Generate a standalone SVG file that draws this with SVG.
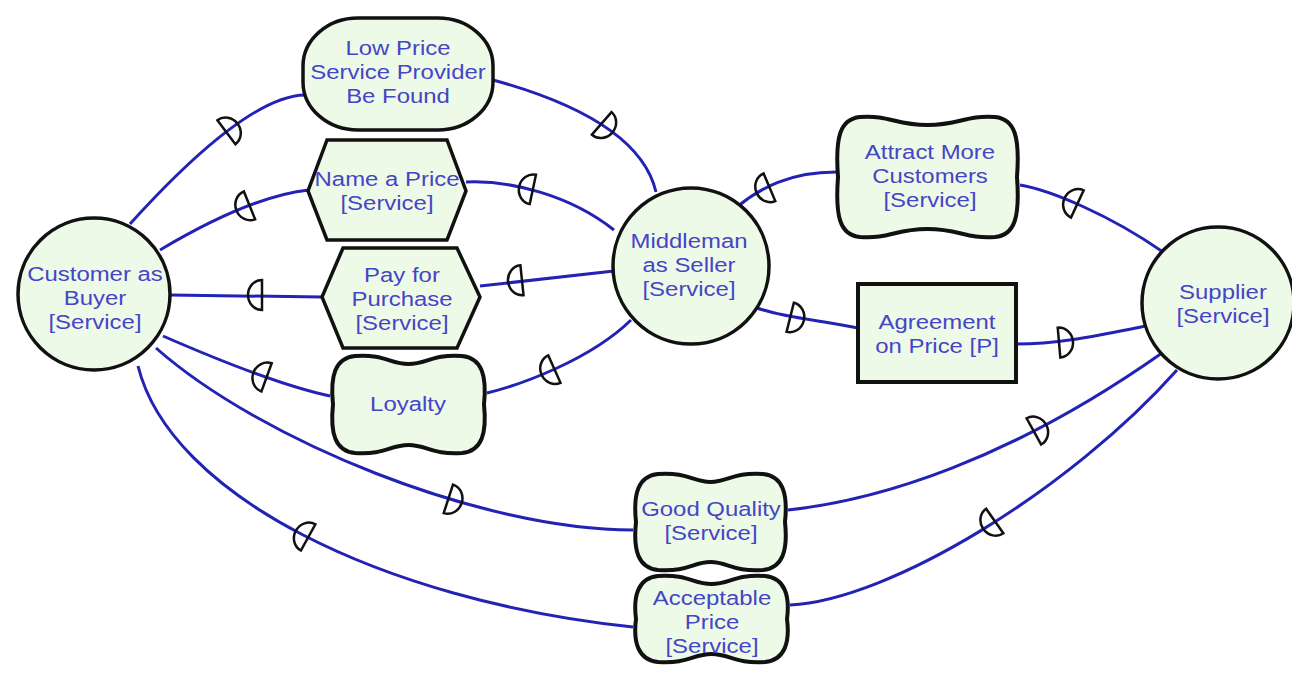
<svg xmlns="http://www.w3.org/2000/svg" width="1292" height="675" viewBox="0 0 1292 675">
<style>
.n{fill:#eefae8;stroke:#111;stroke-width:3.5}
.sg{fill:#eefae8;stroke:#111;stroke-width:4}
.t{font-family:"Liberation Sans",Arial,sans-serif;font-size:21px;fill:#4545c6;text-anchor:middle}
.l{fill:none;stroke:#2222b4;stroke-width:3}
.d{fill:none;stroke:#111;stroke-width:2.5}
</style>
<defs>
<path id="dm" class="d" d="M-7,-15 A14,15 0 0 1 -7,15 Z"/>
</defs>
<rect width="1292" height="675" fill="#ffffff"/>
<g id="connectors">
<path class="l" d="M130,224 Q246,96 305,95"/>
<path class="l" d="M160,250 Q251,196 309,190"/>
<path class="l" d="M170,295 L322,297"/>
<path class="l" d="M163,336 Q273,384 330,396"/>
<path class="l" d="M156,348 C260,440 480,530 633,530"/>
<path class="l" d="M138,366 C170,495 380,600 633,627"/>
<path class="l" d="M493,80 Q639,120 656,192"/>
<path class="l" d="M466,182 C510,180 570,195 614,230"/>
<path class="l" d="M480,286 L614,271"/>
<path class="l" d="M487,393 C520,385 590,360 631,320"/>
<path class="l" d="M737,207 C760,188 790,172 836,172"/>
<path class="l" d="M757,308 C785,318 820,320 858,328"/>
<path class="l" d="M1020,185 C1050,190 1110,215 1163,252"/>
<path class="l" d="M1016,344 C1060,344 1100,335 1146,326"/>
<path class="l" d="M788,510 C880,500 1010,460 1162,353"/>
<path class="l" d="M790,605 C890,600 1070,490 1177,370"/>
<use href="#dm" transform="translate(232,128) rotate(-37)"/>
<use href="#dm" transform="translate(243,208) rotate(158)"/>
<use href="#dm" transform="translate(255,295) rotate(180)"/>
<use href="#dm" transform="translate(260,375) rotate(200)"/>
<use href="#dm" transform="translate(455,501) rotate(18)"/>
<use href="#dm" transform="translate(302,534) rotate(209)"/>
<use href="#dm" transform="translate(607,128) rotate(41)"/>
<use href="#dm" transform="translate(526,188) rotate(192)"/>
<use href="#dm" transform="translate(515,281) rotate(174)"/>
<use href="#dm" transform="translate(548,372) rotate(156)"/>
<use href="#dm" transform="translate(763,190) rotate(157)"/>
<use href="#dm" transform="translate(797,319) rotate(14)"/>
<use href="#dm" transform="translate(1071,201) rotate(205)"/>
<use href="#dm" transform="translate(1066,342) rotate(-5)"/>
<use href="#dm" transform="translate(1040,428) rotate(-29)"/>
<use href="#dm" transform="translate(989,525) rotate(145)"/>
</g>
<g id="customer">
<circle class="n" cx="94" cy="294" r="76"/>
<g transform="translate(95,0) scale(1.14,1)">
<text class="t" x="0" y="281">Customer as</text>
<text class="t" x="0" y="305">Buyer</text>
<text class="t" x="0" y="329">[Service]</text>
</g>
</g>
<g id="lowprice">
<rect class="n" x="303" y="18" width="190" height="112" rx="55" ry="48"/>
<g transform="translate(398,0) scale(1.14,1)">
<text class="t" x="0" y="55">Low Price</text>
<text class="t" x="0" y="79">Service Provider</text>
<text class="t" x="0" y="103">Be Found</text>
</g>
</g>
<g id="nameaprice">
<polygon class="n" points="327,140 447,140 466,191 447,240 327,240 308,191"/>
<g transform="translate(387,0) scale(1.14,1)">
<text class="t" x="0" y="186">Name a Price</text>
<text class="t" x="0" y="210">[Service]</text>
</g>
</g>
<g id="payforpurchase">
<polygon class="n" points="343,248 457,248 480,297 457,348 343,348 322,297"/>
<g transform="translate(402,0) scale(1.14,1)">
<text class="t" x="0" y="282">Pay for</text>
<text class="t" x="0" y="306">Purchase</text>
<text class="t" x="0" y="330">[Service]</text>
</g>
</g>
<g id="loyalty">
<path class="sg" d="M355,356 C385,354 390,364 408.5,364 C427,364 432,354 462,356 C482,358 487,376 484,404.5 C487,433 482,451 462,453 C432,455 427,445 408.5,445 C390,445 385,455 355,453 C335,451 330,433 333,404.5 C330,376 335,358 355,356 Z"/>
<g transform="translate(408,0) scale(1.14,1)">
<text class="t" x="0" y="411">Loyalty</text>
</g>
</g>
<g id="middleman">
<circle class="n" cx="691" cy="266" r="78"/>
<g transform="translate(689,0) scale(1.14,1)">
<text class="t" x="0" y="248">Middleman</text>
<text class="t" x="0" y="272">as Seller</text>
<text class="t" x="0" y="296">[Service]</text>
</g>
</g>
<g id="attract">
<path class="sg" d="M860,117 C890,115 895,125 927.5,125 C960,125 965,115 995,117 C1015,119 1020,137 1017,177 C1020,217 1015,235 995,237 C965,239 960,229 927.5,229 C895,229 890,239 860,237 C840,235 835,217 838,177 C835,137 840,119 860,117 Z"/>
<g transform="translate(930,0) scale(1.14,1)">
<text class="t" x="0" y="159">Attract More</text>
<text class="t" x="0" y="183">Customers</text>
<text class="t" x="0" y="207">[Service]</text>
</g>
</g>
<g id="agreement">
<rect class="n" x="858" y="284" width="158" height="98" style="stroke-width:4"/>
<g transform="translate(937,0) scale(1.14,1)">
<text class="t" x="0" y="329">Agreement</text>
<text class="t" x="0" y="353">on Price [P]</text>
</g>
</g>
<g id="supplier">
<circle class="n" cx="1218" cy="303" r="76"/>
<g transform="translate(1223,0) scale(1.14,1)">
<text class="t" x="0" y="299">Supplier</text>
<text class="t" x="0" y="323">[Service]</text>
</g>
</g>
<g id="goodquality">
<path class="sg" d="M658,474 C688,472 693,482 710.5,482 C728,482 733,472 763,474 C783,476 788,494 785,522 C788,550 783,568 763,570 C733,572 728,562 710.5,562 C693,562 688,572 658,570 C638,568 633,550 636,522 C633,494 638,476 658,474 Z"/>
<g transform="translate(711,0) scale(1.14,1)">
<text class="t" x="0" y="516">Good Quality</text>
<text class="t" x="0" y="540">[Service]</text>
</g>
</g>
<g id="acceptableprice">
<path class="sg" d="M658,576 C688,574 693,584 711.5,584 C730,584 735,574 765,576 C785,578 790,596 787,619 C790,642 785,660 765,662 C735,664 730,654 711.5,654 C693,654 688,664 658,662 C638,660 633,642 636,619 C633,596 638,578 658,576 Z"/>
<g transform="translate(712,0) scale(1.14,1)">
<text class="t" x="0" y="605">Acceptable</text>
<text class="t" x="0" y="629">Price</text>
<text class="t" x="0" y="653">[Service]</text>
</g>
</g>
</svg>
